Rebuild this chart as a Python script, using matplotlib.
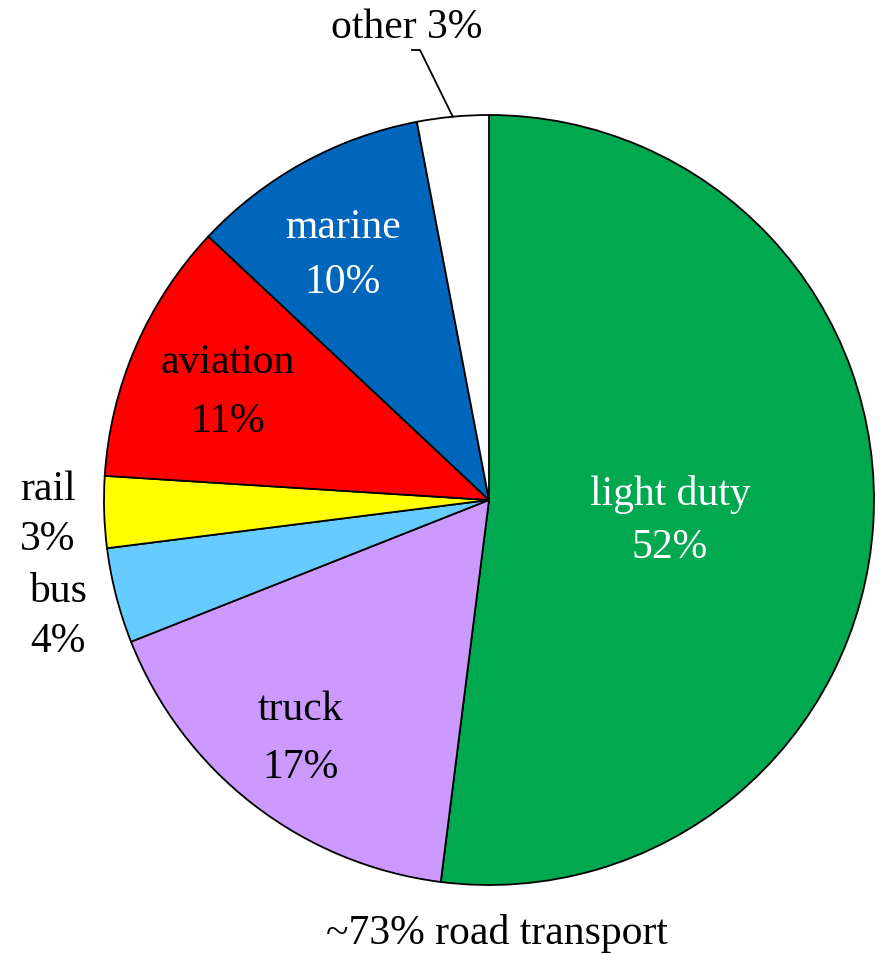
import numpy as np
import matplotlib.pyplot as plt

labels = ["light duty", "truck", "bus", "rail", "aviation", "marine", "other"]
shares = [52, 17, 4, 3, 11, 10, 3]
colors = ["#00A84F", "#CC99FF", "#66CCFF", "#FFFF00", "#FF0000", "#0066BB", "#FFFFFF"]
text_colors = ["white", "black", "black", "black", "black", "white", "black"]

W, H = 881, 955
cx, cy, R = 489, H - 500, 385

fig = plt.figure(figsize=(W / 100, H / 100), dpi=100)
ax = fig.add_axes([0, 0, 1, 1])
plt.rcParams['font.family'] = ['Liberation Serif', 'DejaVu Serif']

wedges, _ = ax.pie(shares, colors=colors, startangle=90, counterclock=False,
                   center=(cx, cy), radius=R,
                   wedgeprops=dict(edgecolor="black", linewidth=1.3))
ax.set_xlim(0, W)
ax.set_ylim(0, H)
ax.set_aspect("equal")
ax.axis("off")

fs = 30
# label positions (pixel coords from top-left)
pos = {
    "light duty": (670, 495, 548),
    "truck": (300, 710, 768),
    "bus": (58, 592, 642),
    "rail": (48, 490, 540),
    "aviation": (228, 363, 422),
    "marine": (343, 228, 283),
}
for lab, val, tc in zip(labels, shares, text_colors):
    if lab not in pos:
        continue
    x, y1, y2 = pos[lab]
    ax.text(x, H - y1, lab, ha="center", va="center", fontsize=fs, color=tc)
    ax.text(x, H - y2, f"{val}%", ha="center", va="center", fontsize=fs, color=tc)

# "other" label with leader line
w = wedges[labels.index("other")]
mid = np.deg2rad((w.theta1 + w.theta2) / 2)
ex, ey = cx + R * np.cos(mid), cy + R * np.sin(mid)
ax.plot([412, 420, ex], [H - 50, H - 50, ey], color="black", lw=1.3)
ax.text(407, H - 28, f"other {shares[-1]}%", ha="center", va="center", fontsize=fs)

road = sum(shares[:3])
ax.text(497, H - 933, f"~{road}% road transport", ha="center", va="center", fontsize=fs)

fig.savefig("out.png", dpi=100)
